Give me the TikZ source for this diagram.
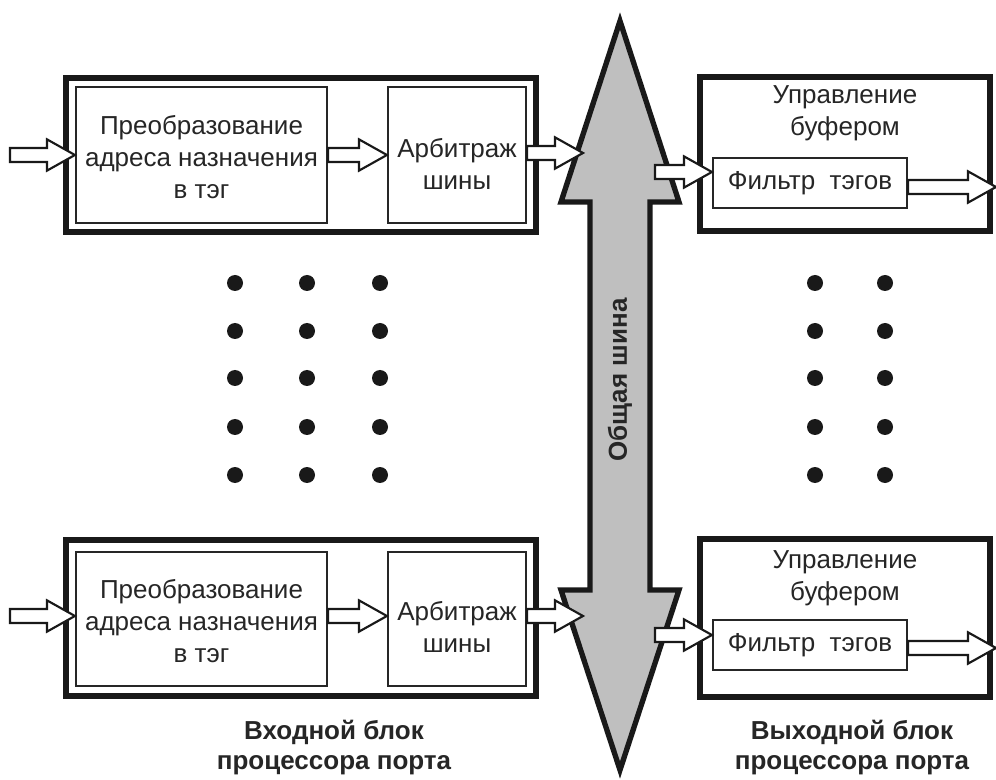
\documentclass[tikz,border=0pt]{standalone}
\usepackage{fontspec}
\setmainfont{Liberation Sans}
\usetikzlibrary{calc}

% horizontal hollow arrow from #1 to #2 (tip at the x of #2, height of #1)
\newcommand\hollowarrow[2]{%
  \draw[hollow] let \p1=(#1), \p2=(#2) in
    (\x1,\y1+5.25pt) -- (\x2-21pt,\y1+5.25pt) -- (\x2-21pt,\y1+11.75pt) -- (\x2,\y1)
    -- (\x2-21pt,\y1-11.75pt) -- (\x2-21pt,\y1-5.25pt) -- (\x1,\y1-5.25pt) -- cycle;}

\begin{document}
\begin{tikzpicture}[x=0.75pt,y=-0.75pt,
  txt/.style={font=\fontsize{19.5}{24}\selectfont, text=black!85, align=center, inner sep=0pt},
  lbl/.style={font=\fontsize{19.5}{22.5}\selectfont\bfseries, text=black!85, align=center, inner sep=0pt},
  outerbox/.style={draw=black!90, line width=4.2pt, inner sep=0pt},
  innerbox/.style={draw=black!85, line width=1.6pt, inner sep=0pt},
  hollow/.style={draw=black!90, fill=white, line width=1.6pt, line join=miter},
  busshape/.style={draw=black!90, fill=black!25, line width=4pt, line join=miter, miter limit=10}
]
\useasboundingbox[fill=white] (0,0) rectangle (996,780);

% common bus
\draw[busshape] (620,21) -- (679,202) -- (650,202) -- (650,590) -- (679,590)
  -- (620,770) -- (561,590) -- (590,590) -- (590,202) -- (561,202) -- cycle;
\node[lbl, rotate=90] (buslbl) at (620,380) {Общая шина};

% ---- input port processor, top ----
\node[outerbox, minimum width=352.5pt, minimum height=115.5pt] (in1) at (301,155) {};
\node[innerbox, minimum width=188.25pt, minimum height=102pt] (conv1) at (201.5,155) {};
\node[innerbox, minimum width=103.5pt, minimum height=102pt] (arb1) at (457,155) {};
\node[txt] (conv1t) at (201.5,157) {Преобразование\\адреса назначения\\в тэг};
\node[txt] (arb1t) at (457,164) {Арбитраж\\шины};

% ---- input port processor, bottom ----
\node[outerbox, minimum width=352.5pt, minimum height=117pt] (in2) at (301,618) {};
\node[innerbox, minimum width=188.25pt, minimum height=100.5pt] (conv2) at (201.5,619) {};
\node[innerbox, minimum width=103.5pt, minimum height=100.5pt] (arb2) at (457,619) {};
\node[txt] (conv2t) at (201.5,621) {Преобразование\\адреса назначения\\в тэг};
\node[txt] (arb2t) at (457,627) {Арбитраж\\шины};

% ---- output port processor, top ----
\node[outerbox, minimum width=217.5pt, minimum height=115.5pt] (out1) at (845,154) {};
\node[innerbox, minimum width=145.5pt, minimum height=37.5pt] (filt1) at (810,183) {};
\node[txt] (buf1t) at (845,113) {Управление\\буфером};
\node[txt] (filt1t) at (810,183) {Фильтр\ \ тэгов};

% ---- output port processor, bottom ----
\node[outerbox, minimum width=217.5pt, minimum height=118.5pt] (out2) at (845,618) {};
\node[innerbox, minimum width=145.5pt, minimum height=37.5pt] (filt2) at (810,645) {};
\node[txt] (buf2t) at (845,578) {Управление\\буфером};
\node[txt] (filt2t) at (810,645) {Фильтр\ \ тэгов};

% free ends of the hollow arrows
\coordinate (src1) at (10,155);
\coordinate (src2) at (10,616);
\coordinate (busin1) at (583,153);
\coordinate (busin2) at (583,616);
\coordinate (busout1) at (655,172);
\coordinate (busout2) at (655,635);
\coordinate (sink1) at (996,187);
\coordinate (sink2) at (996,648);

% hollow arrows
\hollowarrow{src1}{conv1.west}
\hollowarrow{conv1.east}{arb1.west}
\hollowarrow{arb1.east |- busin1}{busin1}
\hollowarrow{busout1}{filt1.west}
\hollowarrow{filt1.east |- sink1}{sink1}

\hollowarrow{src2}{conv2.west}
\hollowarrow{conv2.east |- src2}{arb2.west}
\hollowarrow{arb2.east |- busin2}{busin2}
\hollowarrow{busout2}{filt2.west}
\hollowarrow{filt2.east |- sink2}{sink2}

% ellipsis dots
\foreach \y in {283,331,378,427,475} {
  \foreach \x in {235,307,380,815,885} {
    \fill[black!90] (\x,\y) circle (6pt);
  }
}

% captions
\node[lbl] (inlbl) at (334,748) {Входной блок\\процессора порта};
\node[lbl] (outlbl) at (852,748) {Выходной блок\\процессора порта};
\end{tikzpicture}
\end{document}
